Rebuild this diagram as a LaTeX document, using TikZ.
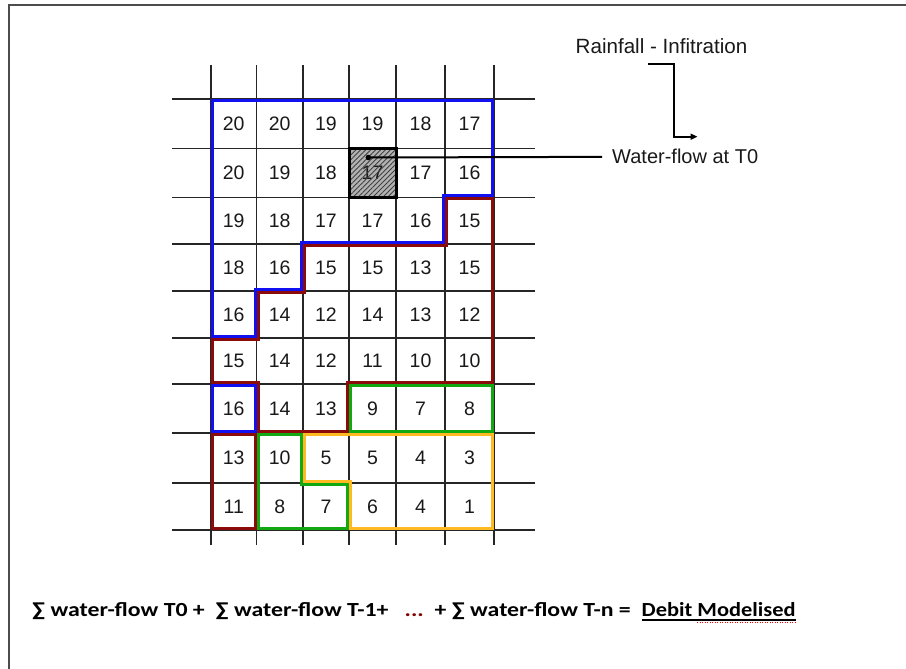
\documentclass[tikz,border=0pt]{standalone}
\usepackage{fontspec}
\setmainfont{Liberation Sans}
\newfontfamily\formfont{Carlito}
\usetikzlibrary{arrows.meta,patterns.meta}
\definecolor{rblue}{HTML}{1010F0}
\definecolor{rred}{HTML}{8B0A0A}
\definecolor{rgreen}{HTML}{12A812}
\definecolor{rorange}{HTML}{FFBA22}
\definecolor{dkred}{HTML}{800000}
\newcommand\gridrow[8]{%
  \node[num] (n#1-1) at (233.75,#2) {#3};
  \node[num] (n#1-2) at (279.75,#2) {#4};
  \node[num] (n#1-3) at (326,#2) {#5};
  \node[num] (n#1-4) at (372.5,#2) {#6};
  \node[num] (n#1-5) at (420.5,#2) {#7};
  \node[num] (n#1-6) at (469.5,#2) {#8};}
\begin{document}
\begin{tikzpicture}[x=1pt,y=-1pt,
  gridl/.style={line width=1.3pt,black!85},
  num/.style={inner sep=0pt,font=\fontsize{19.5}{19.5}\selectfont,text=black!90},
  zone/.style={line width=3pt,line join=miter},
  lbl/.style={inner sep=0pt,font=\fontsize{20}{20}\selectfont,text=black!90,anchor=base west},
  formula/.style={inner sep=0pt,anchor=base west,font=\formfont\bfseries\fontsize{20}{20}\selectfont},
  conn/.style={line width=2pt,black}]
\useasboundingbox (0,0) rectangle (906,669);
% frame
\draw[line width=1.8pt,black!70] (9,669) -- (9,5) -- (906,5);
% grid
\foreach \x in {211,256.5,303,349,396,445,494} \draw[gridl] (\x,65) -- (\x,545);
\foreach \y in {99,148.5,197.5,244,291,338,384,433,483,530} \draw[gridl] (172,\y) -- (535,\y);
% hatched cell background
\fill[black!30] (349,148.5) rectangle (396,197.5);
% numbers
\gridrow{1}{123.75}{20}{20}{19}{19}{18}{17}
\gridrow{2}{173}{20}{19}{18}{17}{17}{16}
\gridrow{3}{220.75}{19}{18}{17}{17}{16}{15}
\gridrow{4}{267.5}{18}{16}{15}{15}{13}{15}
\gridrow{5}{314.5}{16}{14}{12}{14}{13}{12}
\gridrow{6}{361}{15}{14}{12}{11}{10}{10}
\gridrow{7}{408.5}{16}{14}{13}{9}{7}{8}
\gridrow{8}{458}{13}{10}{5}{5}{4}{3}
\gridrow{9}{506.5}{11}{8}{7}{6}{4}{1}
% hatched cell
\path[pattern={Lines[angle=45,distance=3.5pt,line width=0.9pt]},pattern color=black!75] (349,148.5) rectangle (396,197.5);
\draw[line width=3pt,black] (349,148.5) rectangle (396,197.5);
% zones
\draw[zone,rblue] (212.5,100.5) -- (492.5,100.5) -- (492.5,195.5) -- (443.5,195.5) -- (443.5,242.5) -- (301.5,242.5) -- (301.5,289.5) -- (255,289.5) -- (255,336.5) -- (212.5,336.5) -- cycle;
\draw[zone,rblue] (212.5,385.5) rectangle (255,431.5);
\draw[zone,rred] (446.5,198.5) -- (492.5,198.5) -- (492.5,382.5) -- (347.5,382.5) -- (347.5,431.5) -- (258,431.5) -- (258,382.5) -- (212.5,382.5) -- (212.5,339.5) -- (258,339.5) -- (258,292.5) -- (304.5,292.5) -- (304.5,245.5) -- (446.5,245.5) -- cycle;
\draw[zone,rred] (212.5,434.5) rectangle (255,528.5);
\draw[zone,rgreen] (350.5,385.5) rectangle (492.5,431.5);
\draw[zone,rgreen] (258,434.5) -- (301.5,434.5) -- (301.5,484.5) -- (347.5,484.5) -- (347.5,528.5) -- (258,528.5) -- cycle;
\draw[zone,rorange] (304.5,434.5) -- (492.5,434.5) -- (492.5,528.5) -- (350.5,528.5) -- (350.5,481.5) -- (304.5,481.5) -- cycle;
% labels
\node[lbl,font=\fontsize{20.6}{20.6}\selectfont] (rain) at (575.5,53.3) {Rainfall - Infitration};
\node[lbl] (wf) at (612,164) {Water-flow at T0};
\node[circle,fill=black,inner sep=0pt,minimum size=5.5pt] (dot) at (368.3,157.5) {};
\draw[conn] (dot.center) -- ([xshift=-10pt]wf.west);
\coordinate (rs) at (648,64.3);
\coordinate (re) at (697.5,136.7);
\draw[conn,-{Triangle[length=7pt,width=6pt]}] (rs) -- (674.3,64.3) -- (674.3,136.7) -- (re);
% formula
\node[formula] (f1) at (32,616)
  {\scalebox{1.19}[1]{∑ water-flow T0 +\ \ ∑ water-flow T-1+\ \ \ {\color{dkred}...}\ \ + ∑ water-flow T-n =}};
\node[formula] (f2) at (641.5,616) {\scalebox{1.12}[1]{Debit Modelised}};
\draw[line width=2pt] ([yshift=-3.5pt]f2.base west) -- ([yshift=-3.5pt]f2.base east);
\draw[red,line width=1pt,dash pattern=on 1pt off 1.5pt] (697,622.8) -- (795,622.8);
\end{tikzpicture}
\end{document}
